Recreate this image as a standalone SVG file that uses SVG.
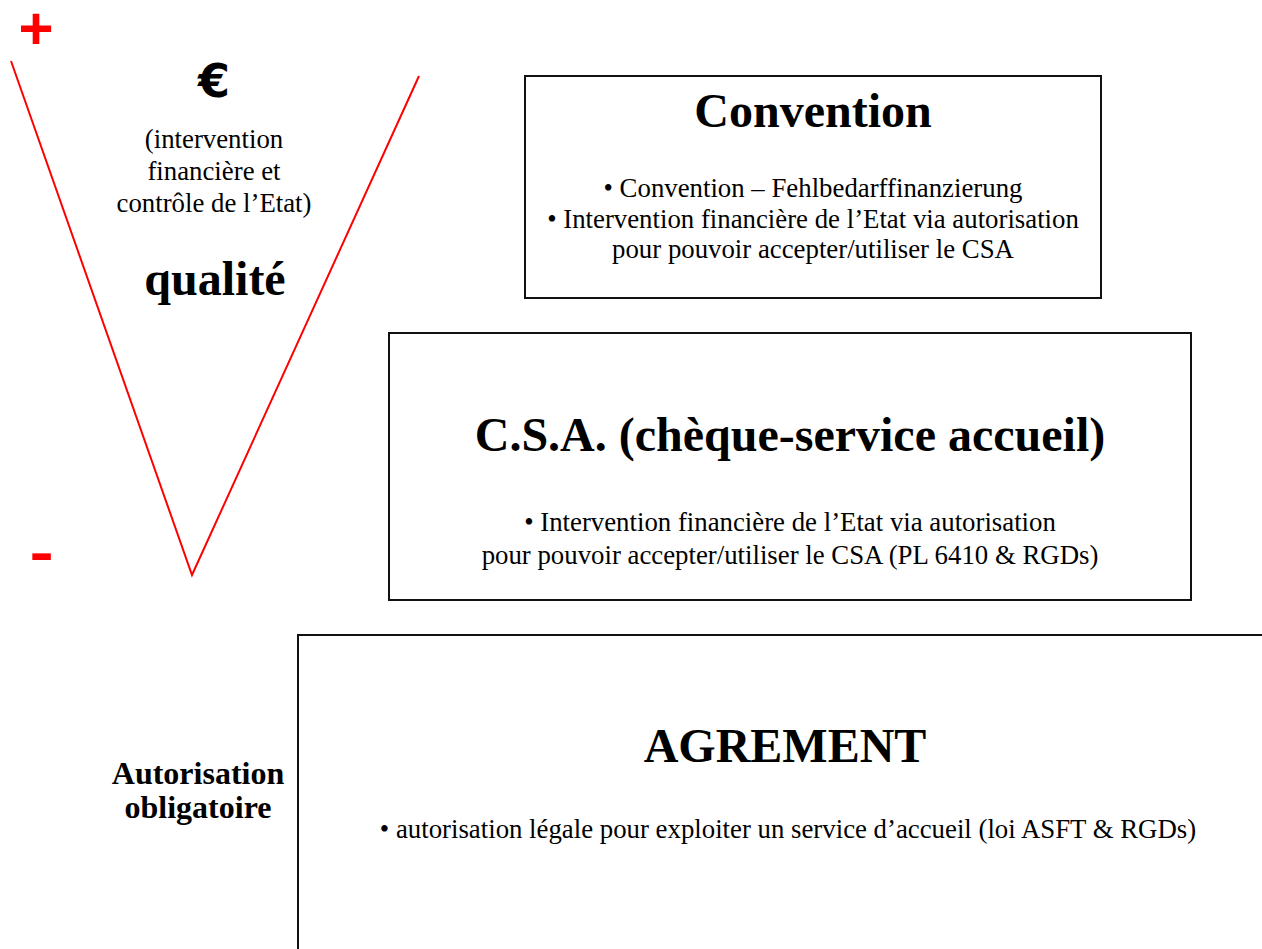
<svg xmlns="http://www.w3.org/2000/svg" width="1262" height="949" viewBox="0 0 1262 949">
  <style>
    .box { fill: #ffffff; stroke: #111111; stroke-width: 2; }
    .title { font-family: "Liberation Serif", "Times New Roman", serif; font-weight: bold; font-size: 48px; fill: #000; text-anchor: middle; }
    .body { font-family: "Liberation Serif", "Times New Roman", serif; font-size: 26.8px; fill: #000; text-anchor: middle; }
    .side { font-family: "Liberation Serif", "Times New Roman", serif; font-weight: bold; font-size: 32px; fill: #000; text-anchor: middle; }
    .sign { font-family: "Liberation Sans", Arial, sans-serif; font-weight: bold; fill: #ff0000; text-anchor: middle; }
    .funnel { fill: none; stroke: #ff0000; stroke-width: 2; stroke-linejoin: miter; }
  </style>
  <rect width="1262" height="949" fill="#ffffff"/>

  <!-- scale: funnel with plus / minus ends -->
  <g id="scale">
    <polyline class="funnel" points="11,61 192,575 419,76"/>
    <text class="sign" x="36" y="49" font-size="60">+</text>
    <g transform="translate(41.5,571) scale(1.3,1)">
      <text class="sign" x="0" y="0" font-size="56">-</text>
    </g>
    <text x="214" y="97" font-family="DejaVu Sans, sans-serif" font-weight="bold" font-size="46" text-anchor="middle" fill="#000">€</text>
    <text class="body" x="214" y="148">(intervention</text>
    <text class="body" x="214" y="180">financière et</text>
    <text class="body" x="214" y="212">contrôle de l’Etat)</text>
    <text class="title" x="215" y="295">qualité</text>
  </g>

  <g id="convention">
    <rect class="box" x="525" y="76" width="576" height="222"/>
    <text class="title" x="813" y="127">Convention</text>
    <text class="body" x="813" y="197">• Convention – Fehlbedarffinanzierung</text>
    <text class="body" x="813" y="228">• Intervention financière de l’Etat via autorisation</text>
    <text class="body" x="813" y="258">pour pouvoir accepter/utiliser le CSA</text>
  </g>

  <g id="csa">
    <rect class="box" x="389" y="333" width="802" height="267"/>
    <text class="title" x="790" y="451">C.S.A. (chèque-service accueil)</text>
    <text class="body" x="790" y="531">• Intervention financière de l’Etat via autorisation</text>
    <text class="body" x="790" y="564">pour pouvoir accepter/utiliser le CSA (PL 6410 &amp; RGDs)</text>
  </g>

  <g id="agrement">
    <path class="box" fill="none" d="M298,949 V635 H1262"/>
    <text class="title" x="785" y="762">AGREMENT</text>
    <text class="body" x="788" y="838">• autorisation légale pour exploiter un service d’accueil (loi ASFT &amp; RGDs)</text>
  </g>

  <g id="autorisation">
    <text class="side" x="198" y="784">Autorisation</text>
    <text class="side" x="198" y="818">obligatoire</text>
  </g>

  <g id="connectors"/>
</svg>
